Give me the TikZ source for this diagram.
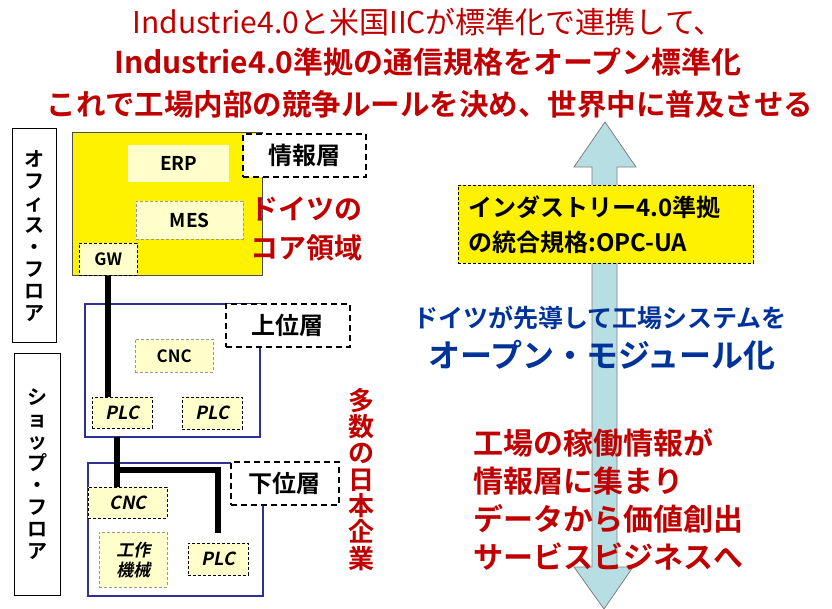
\documentclass[tikz,border=0pt]{standalone}
\usepackage{fontspec}
\setmainfont{Noto Sans CJK JP}[
  BoldFont={Noto Sans CJK JP Bold},
  ItalicFont={Noto Sans CJK JP},
  ItalicFeatures={FakeSlant=0.2},
  BoldItalicFont={Noto Sans CJK JP Bold},
  BoldItalicFeatures={FakeSlant=0.2}]
\usetikzlibrary{positioning}

\definecolor{titlered}{RGB}{192,0,0}
\definecolor{leadblue}{RGB}{0,51,153}
\definecolor{paleyel}{RGB}{255,255,204}
\definecolor{arrowblue}{RGB}{183,222,227}
\definecolor{zoneblue}{RGB}{46,49,146}

\begin{document}
\begin{tikzpicture}[x=1pt, y=-1pt,
	floor/.style={rectangle, draw=black, line width=1.2pt, inner sep=0pt, anchor=north west, align=center, font=\fontsize{20}{22}\selectfont\bfseries},
	zone/.style={rectangle, anchor=north west, inner sep=0pt},
	part/.style={rectangle, fill=paleyel, anchor=north west, inner sep=0pt, align=center, font=\fontsize{19}{21}\selectfont\bfseries},
	dpart/.style={part, draw=black, densely dashed, line width=0.5pt},
	layer/.style={rectangle, draw=black, fill=white, line width=1.8pt, dash pattern=on 6pt off 4pt, anchor=north west, inner sep=0pt, font=\fontsize{24}{26}\selectfont\bfseries},
	redtxt/.style={text=titlered, inner sep=0pt, align=left, font=\fontsize{28}{39}\selectfont\bfseries},
	link/.style={line width=6pt}
	]

	\useasboundingbox (0,0) rectangle (832,608);

	% title
	\node (title1) [text=titlered, font=\fontsize{30}{32}\selectfont] at (428,22) {Industrie4.0と米国IICが標準化で連携して、};
	\node (title2) [text=titlered, font=\fontsize{30}{32}\selectfont\bfseries] at (428,62) {Industrie4.0準拠の通信規格をオープン標準化};
	\node (title3) [text=titlered, font=\fontsize{29.5}{31}\selectfont\bfseries] at (430,104) {これで工場内部の競争ルールを決め、世界中に普及させる};

	% floors
	\node (office) [floor, minimum width=44, minimum height=214] at (12,128) {オ\\フ\\ィ\\ス\\・\\フ\\ロ\\ア};
	\node (shop) [floor, minimum width=46, minimum height=242] at (14,353) {シ\\ョ\\ッ\\プ\\・\\フ\\ロ\\ア};

	% information layer
	\node (infozone) [zone, fill=yellow, draw=black!70, line width=0.8pt, minimum width=190, minimum height=143] at (72,132) {};
	\node (erp) [part, minimum width=101, minimum height=37] at (128,145) {ERP};
	\node (mes) [dpart, draw=black!40, minimum width=107, minimum height=38] at (136,201) {MES};
	\node (gw) [dpart, minimum width=58, minimum height=32, font=\fontsize{17}{19}\selectfont\bfseries] at (79,243) {GW};
	\node (infolayer) [layer, minimum width=123, minimum height=43] at (242,133) {情報層};
	\node (core) [redtxt, anchor=west] at (250,229) {ドイツの\\コア領域};

	% upper layer
	\node (upzone) [zone, draw=zoneblue, line width=2pt, minimum width=175, minimum height=133] at (84,303) {};
	\node (uplayer) [layer, minimum width=124, minimum height=43] at (225,303) {上位層};
	\node (cncA) [dpart, draw=black!40, minimum width=78, minimum height=33, font=\fontsize{17}{19}\selectfont\bfseries] at (135,339) {CNC};
	\node (plcA) [dpart, minimum width=60, minimum height=31, font=\fontsize{18}{20}\selectfont\bfseries\itshape] at (92,397) {PLC};
	\node (plcB) [dpart, minimum width=60, minimum height=32, font=\fontsize{18}{20}\selectfont\bfseries\itshape] at (182,397) {PLC};

	% lower layer
	\node (lowzone) [zone, draw=zoneblue, line width=2pt, minimum width=175, minimum height=133] at (87,462) {};
	\node (lowlayer) [layer, minimum width=108, minimum height=43] at (230,461) {下位層};
	\node (cncB) [dpart, minimum width=79, minimum height=31, font=\fontsize{18}{20}\selectfont\bfseries\itshape] at (88,487) {CNC};
	\node (machine) [dpart, draw=black!40, minimum width=68, minimum height=55, font=\fontsize{17}{20}\selectfont\bfseries\itshape] at (99,532) {工作\\機械};
	\node (plcC) [dpart, minimum width=60, minimum height=32, font=\fontsize{18}{20}\selectfont\bfseries\itshape] at (188,543) {PLC};

	\node (japan) [redtxt, align=center, anchor=north, font=\fontsize{26}{26.3}\selectfont\bfseries] at (361,388) {多\\数\\の\\日\\本\\企\\業};

	% network lines
	\coordinate (tap) at (117,437);
	\draw [link] (gw.south) -- (gw.south |- plcA.north);
	\draw [link] (tap) -- (tap |- cncB.north);
	\draw [link] (117,470) -| ([yshift=10pt]plcC.north);

	% two-way arrow
	\draw [fill=arrowblue, draw=black!50, line width=0.8pt]
		(605,122) -- (636,167) -- (617,167) -- (617,567) -- (633,567) -- (604,609)
		-- (574,567) -- (592,567) -- (592,167) -- (574,167) -- cycle;

	\node (opc) [rectangle, fill=yellow, draw=black, densely dashed, line width=0.5pt, anchor=north west, inner xsep=10pt, inner ysep=0pt, minimum height=78, text width=275, align=left, font=\fontsize{24}{35}\selectfont\bfseries] at (458,185) {インダストリー4.0準拠\\の統合規格:OPC-UA};

	\node (lead) [text=leadblue, inner sep=0pt, font=\fontsize{25}{27}\selectfont\bfseries] at (600,318) {ドイツが先導して工場システムを};
	\node (modular) [text=leadblue, inner sep=0pt, font=\fontsize{32}{34}\selectfont\bfseries] at (602,355) {オープン・モジュール化};

	\node (service) [redtxt, anchor=west, font=\fontsize{30}{38}\selectfont\bfseries] at (473,499) {工場の稼働情報が\\情報層に集まり\\データから価値創出\\サービスビジネスへ};

\end{tikzpicture}
\end{document}
